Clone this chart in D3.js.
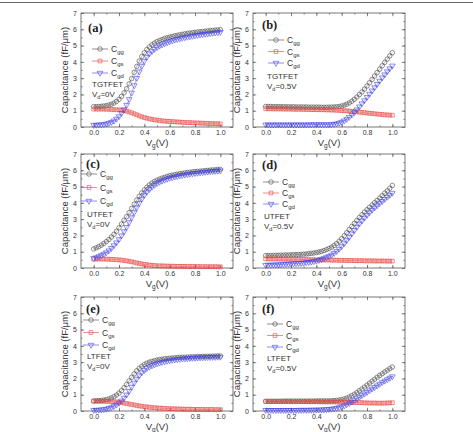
<!DOCTYPE html>
<html>
<head>
<meta charset="utf-8">
<script src="https://cdn.jsdelivr.net/npm/d3@7"></script>
<style>
  body { margin: 0; background: #fff; }
  svg { display: block; }
</style>
</head>
<body>
<div id="chart"></div>
<script>
// gate voltage grid, V
const VG = [0.00, 0.02, 0.04, 0.06, 0.08, 0.10, 0.12, 0.14, 0.16, 0.18,
  0.20, 0.22, 0.24, 0.26, 0.28, 0.30, 0.32, 0.34, 0.36, 0.38,
  0.40, 0.42, 0.44, 0.46, 0.48, 0.50, 0.52, 0.54, 0.56, 0.58,
  0.60, 0.62, 0.64, 0.66, 0.68, 0.70, 0.72, 0.74, 0.76, 0.78,
  0.80, 0.82, 0.84, 0.86, 0.88, 0.90, 0.92, 0.94, 0.96, 0.98, 1.00]

// (a) TGTFET, Vd = 0V
const TG0_CGG = [1.25, 1.25, 1.26, 1.27, 1.29, 1.31, 1.35, 1.40, 1.47, 1.57, 1.70, 1.88, 2.10, 2.35, 2.65, 2.97, 3.35, 3.72, 4.05, 4.33, 4.56, 4.76, 4.92, 5.05, 5.15, 5.24, 5.31, 5.37, 5.43, 5.48, 5.52, 5.56, 5.60, 5.63, 5.66, 5.69, 5.72, 5.74, 5.77, 5.79, 5.81, 5.83, 5.85, 5.87, 5.88, 5.90, 5.92, 5.93, 5.95, 5.96, 5.98]
const TG0_CGS = [1.10, 1.10, 1.10, 1.10, 1.10, 1.09, 1.09, 1.08, 1.07, 1.06, 1.05, 1.03, 1.00, 0.97, 0.92, 0.87, 0.81, 0.75, 0.69, 0.63, 0.58, 0.54, 0.50, 0.47, 0.44, 0.42, 0.40, 0.38, 0.36, 0.35, 0.34, 0.33, 0.32, 0.31, 0.30, 0.29, 0.28, 0.27, 0.27, 0.26, 0.25, 0.25, 0.24, 0.23, 0.23, 0.22, 0.21, 0.21, 0.20, 0.20, 0.19]
const TG0_CGD = [0.12, 0.13, 0.14, 0.15, 0.17, 0.20, 0.24, 0.30, 0.38, 0.50, 0.65, 0.85, 1.08, 1.35, 1.70, 2.10, 2.55, 3.00, 3.40, 3.75, 4.05, 4.30, 4.50, 4.65, 4.78, 4.89, 4.98, 5.06, 5.13, 5.19, 5.25, 5.30, 5.35, 5.39, 5.43, 5.47, 5.50, 5.53, 5.56, 5.59, 5.62, 5.64, 5.67, 5.69, 5.71, 5.73, 5.75, 5.77, 5.79, 5.81, 5.83]

// (b) TGTFET, Vd = 0.5V
const TG5_CGG = [1.26, 1.26, 1.26, 1.25, 1.25, 1.25, 1.25, 1.25, 1.24, 1.24, 1.24, 1.24, 1.23, 1.23, 1.23, 1.23, 1.23, 1.22, 1.22, 1.22, 1.22, 1.22, 1.21, 1.21, 1.21, 1.22, 1.22, 1.23, 1.24, 1.26, 1.29, 1.34, 1.40, 1.48, 1.58, 1.70, 1.84, 1.99, 2.15, 2.33, 2.52, 2.72, 2.92, 3.13, 3.34, 3.55, 3.76, 3.97, 4.17, 4.37, 4.56]
const TG5_CGS = [1.12, 1.12, 1.12, 1.11, 1.11, 1.11, 1.11, 1.10, 1.10, 1.10, 1.10, 1.09, 1.09, 1.09, 1.09, 1.08, 1.08, 1.08, 1.07, 1.07, 1.07, 1.06, 1.06, 1.06, 1.05, 1.05, 1.04, 1.04, 1.03, 1.02, 1.01, 1.00, 0.99, 0.98, 0.96, 0.95, 0.93, 0.91, 0.90, 0.88, 0.86, 0.84, 0.83, 0.81, 0.80, 0.78, 0.77, 0.75, 0.74, 0.73, 0.72]
const TG5_CGD = [0.14, 0.14, 0.14, 0.14, 0.14, 0.14, 0.14, 0.14, 0.14, 0.14, 0.14, 0.14, 0.14, 0.14, 0.14, 0.14, 0.14, 0.14, 0.15, 0.15, 0.15, 0.15, 0.15, 0.15, 0.15, 0.15, 0.16, 0.18, 0.21, 0.25, 0.31, 0.39, 0.49, 0.61, 0.75, 0.90, 1.07, 1.25, 1.44, 1.63, 1.83, 2.03, 2.23, 2.43, 2.63, 2.83, 3.03, 3.22, 3.41, 3.59, 3.76]

// (c) UTFET, Vd = 0V
const UT0_CGG = [1.17, 1.24, 1.31, 1.40, 1.50, 1.62, 1.75, 1.90, 2.07, 2.26, 2.47, 2.70, 2.93, 3.15, 3.40, 3.66, 3.92, 4.17, 4.40, 4.61, 4.80, 4.96, 5.10, 5.21, 5.31, 5.39, 5.46, 5.52, 5.57, 5.62, 5.66, 5.70, 5.73, 5.76, 5.79, 5.81, 5.84, 5.86, 5.88, 5.90, 5.92, 5.93, 5.95, 5.96, 5.98, 5.99, 6.01, 6.02, 6.03, 6.05, 6.06]
const UT0_CGS = [0.55, 0.55, 0.55, 0.55, 0.55, 0.54, 0.54, 0.53, 0.52, 0.51, 0.50, 0.48, 0.46, 0.44, 0.41, 0.38, 0.35, 0.31, 0.28, 0.25, 0.22, 0.20, 0.18, 0.16, 0.15, 0.14, 0.13, 0.13, 0.12, 0.12, 0.11, 0.11, 0.11, 0.10, 0.10, 0.10, 0.10, 0.09, 0.09, 0.09, 0.09, 0.09, 0.08, 0.08, 0.08, 0.08, 0.08, 0.08, 0.08, 0.07, 0.07]
const UT0_CGD = [0.60, 0.65, 0.71, 0.78, 0.86, 0.95, 1.07, 1.22, 1.38, 1.56, 1.76, 1.99, 2.24, 2.51, 2.80, 3.10, 3.41, 3.71, 3.99, 4.25, 4.48, 4.67, 4.84, 4.98, 5.10, 5.20, 5.28, 5.35, 5.41, 5.47, 5.52, 5.56, 5.60, 5.63, 5.67, 5.70, 5.73, 5.75, 5.78, 5.80, 5.82, 5.84, 5.86, 5.88, 5.89, 5.91, 5.93, 5.94, 5.95, 5.97, 5.98]

// (d) UTFET, Vd = 0.5V
const UT5_CGG = [0.76, 0.76, 0.77, 0.77, 0.78, 0.78, 0.79, 0.79, 0.80, 0.80, 0.81, 0.82, 0.82, 0.83, 0.84, 0.85, 0.86, 0.88, 0.90, 0.92, 0.95, 0.98, 1.02, 1.07, 1.13, 1.20, 1.28, 1.38, 1.50, 1.64, 1.80, 1.98, 2.17, 2.36, 2.55, 2.74, 2.92, 3.10, 3.27, 3.43, 3.58, 3.73, 3.87, 4.01, 4.15, 4.29, 4.44, 4.59, 4.74, 4.90, 5.07]
const UT5_CGS = [0.56, 0.56, 0.56, 0.55, 0.55, 0.55, 0.55, 0.54, 0.54, 0.54, 0.54, 0.53, 0.53, 0.53, 0.52, 0.52, 0.52, 0.51, 0.51, 0.51, 0.50, 0.50, 0.50, 0.49, 0.49, 0.49, 0.48, 0.48, 0.48, 0.47, 0.47, 0.47, 0.46, 0.46, 0.46, 0.45, 0.45, 0.45, 0.45, 0.44, 0.44, 0.44, 0.44, 0.43, 0.43, 0.43, 0.43, 0.43, 0.42, 0.42, 0.42]
const UT5_CGD = [0.18, 0.19, 0.19, 0.20, 0.20, 0.21, 0.22, 0.23, 0.24, 0.25, 0.26, 0.27, 0.28, 0.29, 0.30, 0.32, 0.34, 0.36, 0.38, 0.41, 0.44, 0.48, 0.54, 0.60, 0.66, 0.73, 0.81, 0.91, 1.03, 1.17, 1.33, 1.51, 1.70, 1.90, 2.11, 2.32, 2.52, 2.72, 2.90, 3.08, 3.25, 3.41, 3.56, 3.70, 3.84, 3.97, 4.10, 4.23, 4.36, 4.48, 4.61]

// (e) LTFET, Vd = 0V
const LT0_CGG = [0.62, 0.63, 0.64, 0.65, 0.67, 0.70, 0.74, 0.80, 0.88, 0.98, 1.10, 1.25, 1.43, 1.63, 1.85, 2.07, 2.28, 2.47, 2.62, 2.75, 2.85, 2.93, 3.00, 3.05, 3.09, 3.13, 3.16, 3.18, 3.20, 3.22, 3.24, 3.25, 3.26, 3.28, 3.29, 3.30, 3.30, 3.31, 3.32, 3.33, 3.33, 3.34, 3.34, 3.35, 3.35, 3.36, 3.36, 3.37, 3.37, 3.38, 3.38]
const LT0_CGS = [0.60, 0.60, 0.60, 0.60, 0.60, 0.59, 0.59, 0.58, 0.57, 0.56, 0.54, 0.52, 0.49, 0.46, 0.43, 0.40, 0.37, 0.34, 0.31, 0.29, 0.27, 0.25, 0.23, 0.21, 0.20, 0.19, 0.18, 0.17, 0.16, 0.15, 0.14, 0.14, 0.13, 0.13, 0.12, 0.12, 0.11, 0.11, 0.11, 0.10, 0.10, 0.10, 0.10, 0.09, 0.09, 0.09, 0.09, 0.09, 0.08, 0.08, 0.08]
const LT0_CGD = [0.05, 0.06, 0.07, 0.08, 0.10, 0.13, 0.17, 0.22, 0.29, 0.38, 0.49, 0.63, 0.80, 1.00, 1.23, 1.48, 1.73, 1.97, 2.18, 2.36, 2.50, 2.62, 2.71, 2.79, 2.85, 2.91, 2.96, 3.00, 3.04, 3.07, 3.10, 3.13, 3.15, 3.17, 3.19, 3.21, 3.22, 3.23, 3.24, 3.25, 3.26, 3.27, 3.28, 3.28, 3.29, 3.30, 3.30, 3.31, 3.31, 3.32, 3.32]

// (f) LTFET, Vd = 0.5V
const LT5_CGG = [0.60, 0.60, 0.60, 0.60, 0.60, 0.60, 0.60, 0.61, 0.61, 0.61, 0.61, 0.61, 0.61, 0.61, 0.61, 0.61, 0.61, 0.61, 0.61, 0.61, 0.62, 0.62, 0.62, 0.62, 0.62, 0.62, 0.63, 0.64, 0.65, 0.67, 0.70, 0.74, 0.79, 0.86, 0.94, 1.03, 1.13, 1.24, 1.35, 1.47, 1.59, 1.71, 1.83, 1.95, 2.07, 2.18, 2.29, 2.40, 2.50, 2.60, 2.70]
const LT5_CGS = [0.58, 0.58, 0.58, 0.58, 0.58, 0.58, 0.58, 0.58, 0.58, 0.58, 0.57, 0.57, 0.57, 0.57, 0.57, 0.57, 0.57, 0.57, 0.57, 0.57, 0.57, 0.56, 0.56, 0.56, 0.56, 0.56, 0.56, 0.56, 0.55, 0.55, 0.55, 0.54, 0.54, 0.53, 0.53, 0.52, 0.52, 0.51, 0.51, 0.50, 0.50, 0.49, 0.49, 0.49, 0.48, 0.48, 0.48, 0.49, 0.49, 0.50, 0.51]
const LT5_CGD = [0.05, 0.05, 0.05, 0.05, 0.05, 0.05, 0.05, 0.05, 0.05, 0.05, 0.05, 0.05, 0.05, 0.06, 0.06, 0.06, 0.06, 0.06, 0.07, 0.07, 0.07, 0.08, 0.08, 0.09, 0.10, 0.11, 0.13, 0.15, 0.18, 0.22, 0.27, 0.33, 0.40, 0.48, 0.57, 0.66, 0.76, 0.86, 0.96, 1.06, 1.16, 1.26, 1.36, 1.46, 1.56, 1.66, 1.76, 1.85, 1.94, 2.03, 2.12]

const X_TICKS = [0.0, 0.2, 0.4, 0.6, 0.8, 1.0]
const Y_TICKS = [0, 1, 2, 3, 4, 5, 6, 7]
const SERIES = ['gg', 'gs', 'gd']

const PANELS = [
  { tag: '(a)', device: 'TGTFET', vd: '=0V',   gg: TG0_CGG, gs: TG0_CGS, gd: TG0_CGD },
  { tag: '(b)', device: 'TGTFET', vd: '=0.5V', gg: TG5_CGG, gs: TG5_CGS, gd: TG5_CGD },
  { tag: '(c)', device: 'UTFET',  vd: '=0V',   gg: UT0_CGG, gs: UT0_CGS, gd: UT0_CGD },
  { tag: '(d)', device: 'UTFET',  vd: '=0.5V', gg: UT5_CGG, gs: UT5_CGS, gd: UT5_CGD },
  { tag: '(e)', device: 'LTFET',  vd: '=0V',   gg: LT0_CGG, gs: LT0_CGS, gd: LT0_CGD },
  { tag: '(f)', device: 'LTFET',  vd: '=0.5V', gg: LT5_CGG, gs: LT5_CGS, gd: LT5_CGD },
]

// where the label, legend and device note sit inside each panel
const ANNOT = [
  { tag: [7, 19],  leg: [11, 36, 12], dev: [11, 74] },
  { tag: [9, 16],  leg: [15, 27, 11.5], dev: [14, 66] },
  { tag: [5, 14],  leg: [0, 20, 13.5], dev: [6, 63] },
  { tag: [9, 15],  leg: [10, 28, 11], dev: [11, 65] },
  { tag: [5, 16],  leg: [2, 23, 12.5], dev: [6, 62] },
  { tag: [9, 16],  leg: [14, 27, 11.5], dev: [14, 64] },
]

const COLORS = { gg: '#474747', gs: '#e8413c', gd: '#3f3fea' }
const SYMBOLS = {
  gg: d3.symbol(d3.symbolCircle, 16),
  gs: d3.symbol(d3.symbolSquare, 14),
  gd: d3.symbol(d3.symbolTriangle, 14),
}
const ROT = { gg: 0, gs: 0, gd: 180 }

const W = 473, H = 432
const PW = 152, PH = 114
const COL_X = [81, 253]
const ROW_Y = [13, 154, 297]
const FRAME = '#555'
const FONT = '"Liberation Sans", Arial, sans-serif'

const svg = d3.select('#chart').append('svg')
  .attr('width', W).attr('height', H)
  .attr('font-family', FONT)

svg.append('line')
  .attr('x1', 0).attr('x2', W).attr('y1', 2.5).attr('y2', 2.5)
  .attr('stroke', '#6a6a6a').attr('stroke-width', 1)

function marker(g, key, cx, cy) {
  g.append('path')
    .attr('d', SYMBOLS[key]())
    .attr('transform', `translate(${cx},${cy}) rotate(${ROT[key]})`)
    .attr('fill', 'none')
    .attr('stroke', COLORS[key])
    .attr('stroke-width', 0.6)
}

function styleAxis(g) {
  g.select('.domain').remove()
  g.selectAll('line').attr('stroke', FRAME).attr('stroke-width', 0.7)
  g.selectAll('text').attr('fill', '#333').attr('font-size', 7).attr('font-family', FONT)
}

PANELS.forEach((p, k) => {
  const a = ANNOT[k]
  const g = svg.append('g')
    .attr('transform', `translate(${COL_X[k % 2]},${ROW_Y[Math.floor(k / 2)]})`)

  const x = d3.scaleLinear().domain([-0.1, 1.1]).range([0, PW])
  const y = d3.scaleLinear().domain([0, 7]).range([PH, 0])

  const xMinor = d3.range(0, 11).map(i => i / 10)
  const yMinor = d3.range(0, 14).map(i => i / 2 + 0.5).filter(v => v < 7)

  // minor ticks on all four sides
  g.append('g').attr('transform', `translate(0,${PH})`)
    .call(d3.axisBottom(x).tickValues(xMinor).tickSize(-1.6).tickFormat(''))
    .call(styleAxis)
  g.append('g')
    .call(d3.axisTop(x).tickValues(xMinor).tickSize(-1.6).tickFormat(''))
    .call(styleAxis)
  g.append('g')
    .call(d3.axisLeft(y).tickValues(yMinor).tickSize(-1.6).tickFormat(''))
    .call(styleAxis)
  g.append('g').attr('transform', `translate(${PW},0)`)
    .call(d3.axisRight(y).tickValues(yMinor).tickSize(-1.6).tickFormat(''))
    .call(styleAxis)

  // major ticks
  g.append('g').attr('transform', `translate(0,${PH})`)
    .call(d3.axisBottom(x).tickValues(X_TICKS).tickSize(-3.2).tickPadding(3.4).tickFormat(d3.format('.1f')))
    .call(styleAxis)
  g.append('g')
    .call(d3.axisTop(x).tickValues(X_TICKS).tickSize(-3.2).tickFormat(''))
    .call(styleAxis)
  g.append('g')
    .call(d3.axisLeft(y).tickValues(Y_TICKS).tickSize(-3.2).tickPadding(4).tickFormat(d3.format('d')))
    .call(styleAxis)
  g.append('g').attr('transform', `translate(${PW},0)`)
    .call(d3.axisRight(y).tickValues(Y_TICKS).tickSize(-3.2).tickFormat(''))
    .call(styleAxis)

  g.append('rect')
    .attr('width', PW).attr('height', PH)
    .attr('fill', 'none').attr('stroke', FRAME).attr('stroke-width', 0.8)

  // curves
  const line = d3.line().x((d, i) => x(VG[i])).y(d => y(d))
  SERIES.forEach(s => {
    g.append('path')
      .datum(p[s])
      .attr('d', line)
      .attr('fill', 'none')
      .attr('stroke', COLORS[s])
      .attr('stroke-width', 0.4)
    g.append('g').selectAll('path')
      .data(p[s])
      .join('path')
      .attr('d', SYMBOLS[s]())
      .attr('transform', (d, i) => `translate(${x(VG[i])},${y(d)}) rotate(${ROT[s]})`)
      .attr('fill', 'none')
      .attr('stroke', COLORS[s])
      .attr('stroke-width', 0.6)
  })

  // axis titles
  g.append('text')
    .attr('transform', `translate(-13,${PH / 2}) rotate(-90)`)
    .attr('text-anchor', 'middle')
    .attr('font-size', 9.5)
    .attr('fill', '#333')
    .text('Capacitance (fF/μm)')

  const xt = g.append('text')
    .attr('x', PW / 2).attr('y', PH + 18.5)
    .attr('text-anchor', 'middle')
    .attr('font-size', 9.5)
    .attr('fill', '#333')
  xt.append('tspan').text('V')
  xt.append('tspan').attr('font-size', 6.5).attr('dy', 2).text('g')
  xt.append('tspan').attr('dy', -2).text('(V)')

  // panel tag
  g.append('text')
    .attr('x', a.tag[0]).attr('y', a.tag[1])
    .attr('font-family', '"Liberation Serif", "Times New Roman", serif')
    .attr('font-weight', 'bold')
    .attr('font-size', 12.5)
    .attr('fill', '#222')
    .text(p.tag)

  // legend
  const [lx, ly, step] = a.leg
  SERIES.forEach((s, j) => {
    const cy = ly + j * step
    g.append('line')
      .attr('x1', lx).attr('x2', lx + 16).attr('y1', cy).attr('y2', cy)
      .attr('stroke', COLORS[s]).attr('stroke-width', 0.6)
    marker(g, s, lx + 8, cy)
    const t = g.append('text')
      .attr('x', lx + 19).attr('y', cy + 3)
      .attr('font-size', 8.5).attr('fill', '#333')
    t.append('tspan').text('C')
    t.append('tspan').attr('font-size', 6).attr('dy', 2).text(s)
  })

  // device note
  const [dx, dy] = a.dev
  g.append('text')
    .attr('x', dx).attr('y', dy)
    .attr('font-size', 8).attr('fill', '#333')
    .text(p.device)
  const vt = g.append('text')
    .attr('x', dx).attr('y', dy + 9.5)
    .attr('font-size', 8).attr('fill', '#333')
  vt.append('tspan').text('V')
  vt.append('tspan').attr('font-size', 5.5).attr('dy', 2).text('d')
  vt.append('tspan').attr('dy', -2).text(p.vd)
})
</script>
</body>
</html>
